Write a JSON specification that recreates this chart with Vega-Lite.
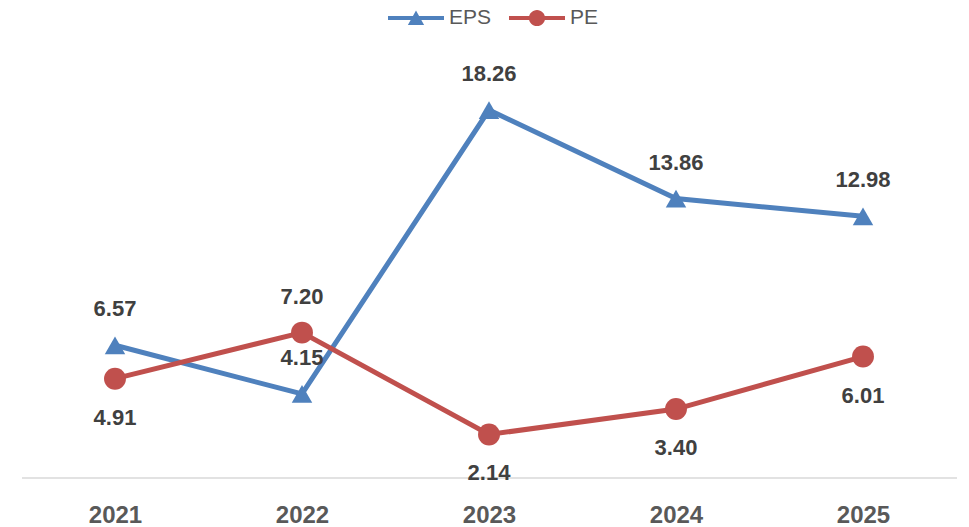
{
  "$schema": "https://vega.github.io/schema/vega-lite/v6.json",
  "autosize": "none",
  "width": 935,
  "height": 402.5,
  "padding": {"left": 21.5, "top": 75, "right": 12.5, "bottom": 49.5},
  "background": "white",
  "config": {
    "view": {"stroke": null},
    "font": "Liberation Sans"
  },
  "data": {
    "values": [
      {"year": "2021", "series": "EPS", "value": 6.57},
      {"year": "2022", "series": "EPS", "value": 4.15},
      {"year": "2023", "series": "EPS", "value": 18.26},
      {"year": "2024", "series": "EPS", "value": 13.86},
      {"year": "2025", "series": "EPS", "value": 12.98},
      {"year": "2021", "series": "PE", "value": 4.91},
      {"year": "2022", "series": "PE", "value": 7.20},
      {"year": "2023", "series": "PE", "value": 2.14},
      {"year": "2024", "series": "PE", "value": 3.40},
      {"year": "2025", "series": "PE", "value": 6.01}
    ]
  },
  "encoding": {
    "x": {
      "field": "year", "type": "nominal",
      "scale": {"type": "point", "padding": 0.5},
      "axis": {
        "title": null, "ticks": false, "grid": false,
        "domainColor": "#d9d9d9", "domainWidth": 1.5,
        "labelFont": "Liberation Sans", "labelFontSize": 24, "labelFontWeight": "bold",
        "labelColor": "#595959", "labelPadding": 26, "labelAngle": 0
      }
    },
    "y": {
      "field": "value", "type": "quantitative",
      "scale": {"domain": [0, 20], "nice": false, "zero": true},
      "axis": null
    }
  },
  "layer": [
    {
      "mark": {"type": "line", "strokeWidth": 5},
      "encoding": {
        "color": {
          "field": "series", "type": "nominal",
          "scale": {"domain": ["EPS", "PE"], "range": ["#4F81BD", "#C0504D"]},
          "legend": {
            "title": null, "orient": "none", "direction": "horizontal",
            "legendX": 366.5, "legendY": -85,
            "padding": 0, "symbolSize": 3136, "columnPadding": 17,
            "labelOffset": 5, "labelFont": "Liberation Sans", "labelFontSize": 21,
            "labelColor": "#595959",
            "encode": {
              "symbols": {
                "update": {
                  "shape": {"signal": "datum.value == 'EPS' ? 'M-1,-0.07L1,-0.07L1,0.07L-1,0.07Z M-0.29,0.25L0,-0.27L0.29,0.25Z' : 'M-1,-0.07L1,-0.07L1,0.07L-1,0.07Z M0.29,0A0.29,0.29,0,1,1,-0.29,0A0.29,0.29,0,1,1,0.29,0Z'"},
                  "fill": {"scale": "color", "field": "value"},
                  "stroke": {"value": "transparent"},
                  "strokeWidth": {"value": 0},
                  "opacity": {"value": 1}
                }
              }
            }
          }
        }
      }
    },
    {
      "transform": [{"filter": "datum.series == 'EPS'"}],
      "mark": {"type": "point", "shape": "triangle-up", "size": 420, "filled": true, "opacity": 1, "strokeWidth": 0, "color": "#4F81BD"}
    },
    {
      "transform": [{"filter": "datum.series == 'PE'"}],
      "mark": {"type": "point", "shape": "circle", "size": 480, "filled": true, "opacity": 1, "strokeWidth": 0, "color": "#C0504D"}
    },
    {
      "transform": [{"filter": "datum.series == 'EPS' || datum.year == '2022'"}],
      "mark": {"type": "text", "dy": -36, "font": "Liberation Sans", "fontSize": 22, "fontWeight": "bold", "color": "#404040"},
      "encoding": {"text": {"field": "value", "type": "quantitative", "format": ".2f"}}
    },
    {
      "transform": [{"filter": "datum.series == 'PE' && datum.year != '2022'"}],
      "mark": {"type": "text", "dy": 39, "font": "Liberation Sans", "fontSize": 22, "fontWeight": "bold", "color": "#404040"},
      "encoding": {"text": {"field": "value", "type": "quantitative", "format": ".2f"}}
    }
  ]
}
